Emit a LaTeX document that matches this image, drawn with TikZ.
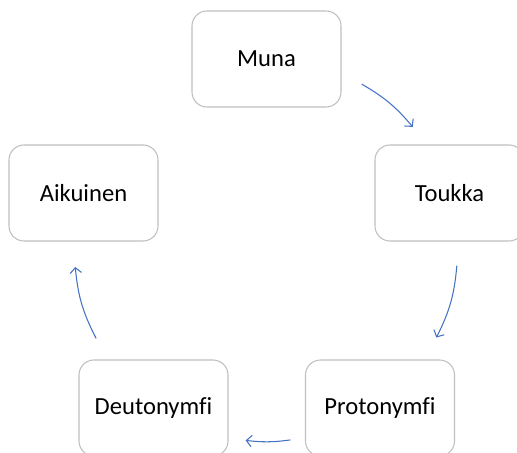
\documentclass[tikz,border=0pt]{standalone}
\usepackage{fontspec}
\setmainfont{Carlito}[Ligatures=NoCommon]
\usetikzlibrary{calc,arrows.meta}

\definecolor{boxgray}{HTML}{BFBFBF}
\definecolor{cycblue}{HTML}{4472C4}

\tikzset{
  stage/.style={draw=boxgray, line width=0.6pt, rounded corners=0.3cm,
    minimum width=2.98cm, minimum height=1.92cm, inner sep=0pt,
    font=\fontsize{14}{16}\selectfont, text=black},
  cyc/.style={draw=cycblue, line width=0.6pt,
    -{Straight Barb[length=3pt,width=6.5pt]}}
}

\begin{document}
\begin{tikzpicture}
\useasboundingbox (0,0) rectangle (10.34,-9.04);
\clip (0,0) rectangle (10.34,-9.04);

\coordinate (hub) at (5.32,-5.00);

\node[stage] (muna) at (5.33,-1.18) {Muna};
\node[stage] (toukka) at (8.99,-3.86) {Toukka};
\node[stage] (protonymfi) at (7.60,-8.16) {Protonymfi};
\node[stage] (deutonymfi) at (3.07,-8.16) {Deutonymfi};
\node[stage] (aikuinen) at (1.67,-3.86) {Aikuinen};

% arrow ends sit on the cycle circle
\coordinate (muna-out) at ($(hub)+(60:3.83)$);
\coordinate (toukka-in) at ($(hub)+(40:3.83)$);
\coordinate (toukka-out) at ($(hub)+(-4.7:3.83)$);
\coordinate (protonymfi-in) at ($(hub)+(-27.2:3.83)$);
\coordinate (protonymfi-out) at ($(hub)+(-82.7:3.83)$);
\coordinate (deutonymfi-in) at ($(hub)+(-96.1:3.83)$);
\coordinate (deutonymfi-out) at ($(hub)+(-152.5:3.83)$);
\coordinate (aikuinen-in) at ($(hub)+(-174.9:3.83)$);

\draw[cyc] (muna-out) to[bend left=10] (toukka-in);
\draw[cyc] (toukka-out) to[bend left=11] (protonymfi-in);
\draw[cyc] (protonymfi-out) to[bend left=7] (deutonymfi-in);
\draw[cyc] (deutonymfi-out) to[bend left=11] (aikuinen-in);
\end{tikzpicture}
\end{document}
